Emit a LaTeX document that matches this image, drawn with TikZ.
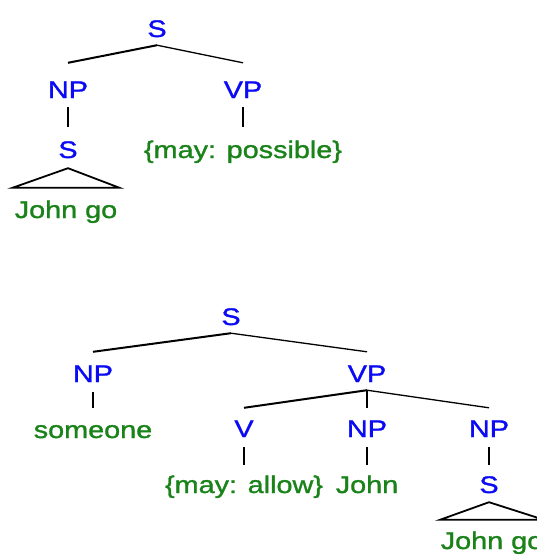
\documentclass[tikz,border=0pt]{standalone}
\usepackage{fontspec}
\setmainfont{Liberation Sans}[FakeStretch=1.2,FakeBold=1.3]
\definecolor{catblue}{RGB}{10,10,245}
\definecolor{wordgreen}{RGB}{25,130,25}
\tikzset{
  tn/.style={inner sep=0pt, text height=17pt, text depth=0pt, anchor=base,
    font=\fontsize{24}{28}\selectfont},
  cat/.style={tn, text=catblue},
  word/.style={tn, text=wordgreen},
  thickbr/.style={line width=2pt, black},
  thinbr/.style={line width=1.3pt, black},
  tri/.style={line width=1.8pt, black, line join=miter},
}
\begin{document}
\begin{tikzpicture}[x=1pt,y=-1pt]
\useasboundingbox (0,0) rectangle (537,554);
% ---- top tree ----
\node[cat] (S1) at (157,37) {S};
\node[cat] (NP1) at (68,98) {NP};
\node[cat] (VP1) at (243,98) {VP};
\node[cat] (S2) at (68,158) {S};
\node[word] (poss) at (243,158) {\{may: possible\}};
\node[word] (jg1) at (66,218) {John go};
\draw[thickbr] ([yshift=-8pt]S1.south) -- ([yshift=18pt]NP1.north);
\draw[thinbr] ([yshift=-8pt]S1.south) -- ([yshift=18pt]VP1.north);
\draw[thinbr] ([yshift=-9pt]NP1.south) -- ([yshift=14pt]S2.north);
\draw[thinbr] ([yshift=-9pt]VP1.south) -- ([yshift=14pt]poss.north);
\draw[tri] ([shift={(-53.5pt,13pt)}]jg1.north) -- ([yshift=-10pt]S2.south) -- ([shift={(53.5pt,13pt)}]jg1.north) -- cycle;
% ---- bottom tree ----
\node[cat] (S3) at (231,325) {S};
\node[cat] (NP3) at (93,382) {NP};
\node[cat] (VP3) at (367,382) {VP};
\node[word] (some) at (93,438) {someone};
\node[cat] (V) at (244,437) {V};
\node[cat] (NPm) at (367,437) {NP};
\node[cat] (NPr) at (489,437) {NP};
\node[word] (allow) at (244,493) {\{may: allow\}};
\node[word] (john) at (367,493) {John};
\node[cat] (S4) at (489,493) {S};
\node[word] (jg2) at (492,549) {John go};
\draw[thickbr] ([yshift=-8pt]S3.south) -- ([yshift=13pt]NP3.north);
\draw[thinbr] ([yshift=-8pt]S3.south) -- ([yshift=13pt]VP3.north);
\draw[thinbr] ([yshift=-10pt]NP3.south) -- ([yshift=13pt]some.north);
\draw[thickbr] ([yshift=-8pt]VP3.south) -- ([yshift=12pt]V.north);
\draw[thinbr] ([yshift=-8pt]VP3.south) -- ([yshift=12pt]NPm.north);
\draw[thinbr] ([yshift=-8pt]VP3.south) -- ([yshift=12pt]NPr.north);
\draw[thinbr] ([yshift=-10pt]V.south) -- ([yshift=11pt]allow.north);
\draw[thinbr] ([yshift=-10pt]NPm.south) -- ([yshift=11pt]john.north);
\draw[thinbr] ([yshift=-10pt]NPr.south) -- ([yshift=11pt]S4.north);
\draw[tri] ([shift={(-52pt,12pt)}]jg2.north) -- ([yshift=-9pt]S4.south) -- ([shift={(52pt,12pt)}]jg2.north) -- cycle;
\end{tikzpicture}
\end{document}
